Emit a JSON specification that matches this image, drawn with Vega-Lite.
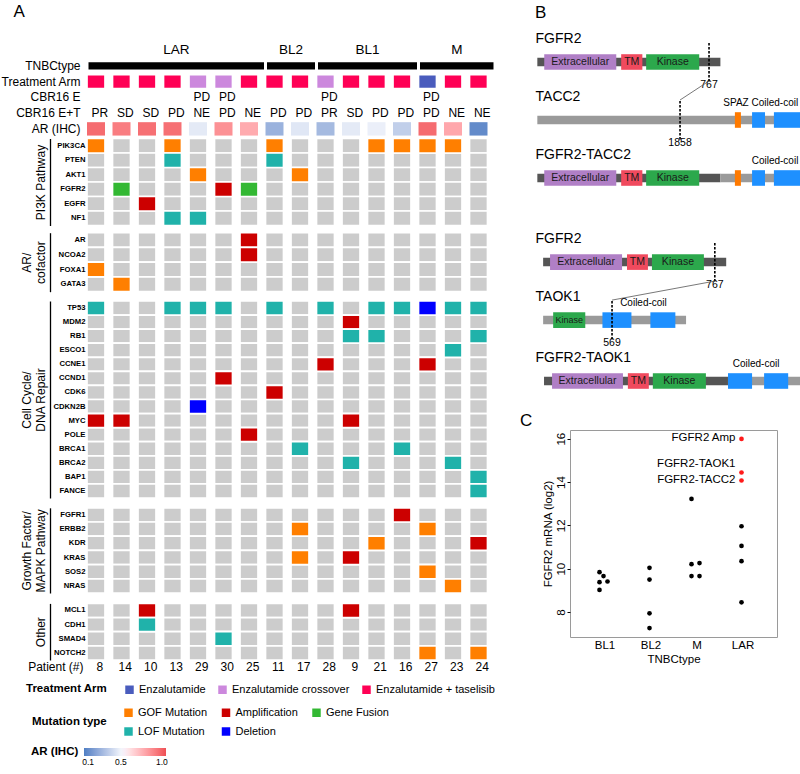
{
  "$schema": "https://vega.github.io/schema/vega-lite/v6.json",
  "background": "white",
  "padding": {"left": 0, "top": 2, "right": 0, "bottom": 0},
  "config": {
    "font": "Liberation Sans",
    "view": {"stroke": null},
    "axis": {"labelColor": "black", "titleColor": "black", "tickColor": "black", "grid": false},
    "legend": {"labelColor": "black", "titleColor": "black"},
    "title": {"color": "black", "fontWeight": "normal"}
  },
  "datasets": {
    "patients": [
      {"patient": "8", "type": "LAR", "arm": "Enzalutamide + taselisib", "cbrE": "", "cbrET": "PR", "ar_ihc": 0.97, "PIK3CA": "GOF Mutation", "FOXA1": "GOF Mutation", "TP53": "LOF Mutation", "MYC": "Amplification"},
      {"patient": "14", "type": "LAR", "arm": "Enzalutamide + taselisib", "cbrE": "", "cbrET": "SD", "ar_ihc": 0.92, "FGFR2": "Gene Fusion", "GATA3": "GOF Mutation", "MYC": "Amplification"},
      {"patient": "10", "type": "LAR", "arm": "Enzalutamide + taselisib", "cbrE": "", "cbrET": "SD", "ar_ihc": 0.96, "EGFR": "Amplification", "MCL1": "Amplification", "CDH1": "LOF Mutation"},
      {"patient": "13", "type": "LAR", "arm": "Enzalutamide + taselisib", "cbrE": "", "cbrET": "PD", "ar_ihc": 0.96, "PIK3CA": "GOF Mutation", "PTEN": "LOF Mutation", "NF1": "LOF Mutation", "TP53": "LOF Mutation"},
      {"patient": "29", "type": "LAR", "arm": "Enzalutamide crossover", "cbrE": "PD", "cbrET": "NE", "ar_ihc": 0.46, "AKT1": "GOF Mutation", "NF1": "LOF Mutation", "TP53": "LOF Mutation", "CDKN2B": "Deletion"},
      {"patient": "30", "type": "LAR", "arm": "Enzalutamide crossover", "cbrE": "PD", "cbrET": "PD", "ar_ihc": 0.86, "FGFR2": "Amplification", "TP53": "LOF Mutation", "CCND1": "Amplification", "SMAD4": "LOF Mutation"},
      {"patient": "25", "type": "LAR", "arm": "Enzalutamide + taselisib", "cbrE": "", "cbrET": "NE", "ar_ihc": 0.78, "FGFR2": "Gene Fusion", "AR": "Amplification", "NCOA2": "Amplification", "POLE": "Amplification"},
      {"patient": "11", "type": "BL2", "arm": "Enzalutamide + taselisib", "cbrE": "", "cbrET": "PD", "ar_ihc": 0.25, "PIK3CA": "GOF Mutation", "PTEN": "LOF Mutation", "TP53": "LOF Mutation", "CDK6": "Amplification"},
      {"patient": "17", "type": "BL2", "arm": "Enzalutamide + taselisib", "cbrE": "", "cbrET": "PD", "ar_ihc": 0.45, "AKT1": "GOF Mutation", "BRCA1": "LOF Mutation", "ERBB2": "GOF Mutation", "KRAS": "GOF Mutation"},
      {"patient": "28", "type": "BL1", "arm": "Enzalutamide crossover", "cbrE": "PD", "cbrET": "PR", "ar_ihc": 0.28, "TP53": "LOF Mutation", "CCNE1": "Amplification"},
      {"patient": "9", "type": "BL1", "arm": "Enzalutamide + taselisib", "cbrE": "", "cbrET": "SD", "ar_ihc": 0.46, "MDM2": "Amplification", "RB1": "LOF Mutation", "MYC": "Amplification", "BRCA2": "LOF Mutation", "KRAS": "Amplification", "MCL1": "Amplification"},
      {"patient": "21", "type": "BL1", "arm": "Enzalutamide + taselisib", "cbrE": "", "cbrET": "PD", "ar_ihc": 0.48, "PIK3CA": "GOF Mutation", "TP53": "LOF Mutation", "RB1": "LOF Mutation", "KDR": "GOF Mutation"},
      {"patient": "16", "type": "BL1", "arm": "Enzalutamide + taselisib", "cbrE": "", "cbrET": "PD", "ar_ihc": 0.36, "PIK3CA": "GOF Mutation", "TP53": "LOF Mutation", "BRCA1": "LOF Mutation", "FGFR1": "Amplification"},
      {"patient": "27", "type": "M", "arm": "Enzalutamide", "cbrE": "PD", "cbrET": "PD", "ar_ihc": 0.97, "PIK3CA": "GOF Mutation", "TP53": "Deletion", "CCNE1": "Amplification", "ERBB2": "GOF Mutation", "SOS2": "GOF Mutation", "NOTCH2": "GOF Mutation"},
      {"patient": "23", "type": "M", "arm": "Enzalutamide + taselisib", "cbrE": "", "cbrET": "NE", "ar_ihc": 0.79, "PIK3CA": "GOF Mutation", "TP53": "LOF Mutation", "ESCO1": "LOF Mutation", "BRCA2": "LOF Mutation", "NRAS": "GOF Mutation"},
      {"patient": "24", "type": "M", "arm": "Enzalutamide + taselisib", "cbrE": "", "cbrET": "NE", "ar_ihc": 0.1, "TP53": "LOF Mutation", "RB1": "LOF Mutation", "BAP1": "LOF Mutation", "FANCE": "LOF Mutation", "KDR": "Amplification", "NOTCH2": "GOF Mutation"}
    ],
    "tnbc": [
      {"type": "LAR", "first": "8", "last": "25", "mid": "13"},
      {"type": "BL2", "first": "11", "last": "17", "mid": "17"},
      {"type": "BL1", "first": "28", "last": "16", "mid": "21"},
      {"type": "M", "first": "27", "last": "24", "mid": "23"}
    ],
    "scatter": [
      {"type": "BL1", "mrna": 9.84, "side": "L"},
      {"type": "BL1", "mrna": 9.66, "side": "C"},
      {"type": "BL1", "mrna": 9.38, "side": "L"},
      {"type": "BL1", "mrna": 9.41, "side": "R"},
      {"type": "BL1", "mrna": 9.02, "side": "L"},
      {"type": "BL2", "mrna": 10.04, "side": "C"},
      {"type": "BL2", "mrna": 9.5, "side": "C"},
      {"type": "BL2", "mrna": 7.94, "side": "C"},
      {"type": "BL2", "mrna": 7.26, "side": "C"},
      {"type": "M", "mrna": 13.22, "side": "L"},
      {"type": "M", "mrna": 10.21, "side": "L"},
      {"type": "M", "mrna": 10.26, "side": "R"},
      {"type": "M", "mrna": 9.66, "side": "L"},
      {"type": "M", "mrna": 9.66, "side": "R"},
      {"type": "LAR", "mrna": 11.96, "side": "C"},
      {"type": "LAR", "mrna": 11.05, "side": "C"},
      {"type": "LAR", "mrna": 10.35, "side": "C"},
      {"type": "LAR", "mrna": 8.45, "side": "C"},
      {"type": "LAR", "mrna": 15.99, "side": "C", "label": "FGFR2 Amp"},
      {"type": "LAR", "mrna": 14.44, "side": "C", "label": "FGFR2-TAOK1"},
      {"type": "LAR", "mrna": 14.07, "side": "C", "label": "FGFR2-TACC2"}
    ],
    "parts": [
      {"track": 1, "kind": "fgfr", "start": 0, "end": 821},
      {"track": 1, "kind": "Extracellular", "start": 31, "end": 354},
      {"track": 1, "kind": "TM", "start": 376, "end": 471},
      {"track": 1, "kind": "Kinase", "start": 488, "end": 726},
      {"track": 2, "kind": "partner", "start": 0, "end": 1178},
      {"track": 2, "kind": "SPAZ", "start": 886, "end": 913},
      {"track": 2, "kind": "Coiled-coil", "start": 963, "end": 1021},
      {"track": 2, "kind": "Coiled-coil", "start": 1061, "end": 1178},
      {"track": 3, "kind": "fgfr", "start": 0, "end": 821},
      {"track": 3, "kind": "partner", "start": 821, "end": 1178},
      {"track": 3, "kind": "Extracellular", "start": 31, "end": 354},
      {"track": 3, "kind": "TM", "start": 376, "end": 471},
      {"track": 3, "kind": "Kinase", "start": 488, "end": 726},
      {"track": 3, "kind": "SPAZ", "start": 886, "end": 913},
      {"track": 3, "kind": "Coiled-coil", "start": 963, "end": 1021},
      {"track": 3, "kind": "Coiled-coil", "start": 1061, "end": 1178},
      {"track": 4.45, "kind": "fgfr", "start": 26, "end": 847},
      {"track": 4.45, "kind": "Extracellular", "start": 57, "end": 380},
      {"track": 4.45, "kind": "TM", "start": 402, "end": 496},
      {"track": 4.45, "kind": "Kinase", "start": 514, "end": 747},
      {"track": 5.45, "kind": "partner", "start": 26, "end": 667},
      {"track": 5.45, "kind": "Kinase", "start": 71, "end": 215},
      {"track": 5.45, "kind": "Coiled-coil", "start": 292, "end": 422},
      {"track": 5.45, "kind": "Coiled-coil", "start": 507, "end": 619},
      {"track": 6.5, "kind": "fgfr", "start": 30, "end": 855},
      {"track": 6.5, "kind": "partner", "start": 855, "end": 1178},
      {"track": 6.5, "kind": "Extracellular", "start": 66, "end": 384},
      {"track": 6.5, "kind": "TM", "start": 406, "end": 500},
      {"track": 6.5, "kind": "Kinase", "start": 518, "end": 756},
      {"track": 6.5, "kind": "Coiled-coil", "start": 855, "end": 963},
      {"track": 6.5, "kind": "Coiled-coil", "start": 1017, "end": 1125}
    ],
    "ptitles": [
      {"track": 1, "name": "FGFR2"},
      {"track": 2, "name": "TACC2"},
      {"track": 3, "name": "FGFR2-TACC2"},
      {"track": 4.45, "name": "FGFR2"},
      {"track": 5.45, "name": "TAOK1"},
      {"track": 6.5, "name": "FGFR2-TAOK1"}
    ],
    "breaks": [
      {"track": 1, "pos": 770, "label": "767"},
      {"track": 2, "pos": 640, "label": "1858"},
      {"track": 4.45, "pos": 796, "label": "767"},
      {"track": 5.45, "pos": 335, "label": "569"}
    ],
    "links": [
      {"from_track": 2, "from_pos": 640, "to_track": 1, "to_pos": 770},
      {"from_track": 5.45, "from_pos": 335, "to_track": 4.45, "to_pos": 796}
    ],
    "annots": [
      {"track": 2, "name": "SPAZ", "pos": 891},
      {"track": 2, "name": "Coiled-coil", "pos": 1065},
      {"track": 3, "name": "Coiled-coil", "pos": 1066},
      {"track": 5.45, "name": "Coiled-coil", "pos": 476},
      {"track": 6.5, "name": "Coiled-coil", "pos": 981}
    ]
  },
  "concat": [
    {
      "vconcat": [
        {
          "width": 408, "height": 78.75,
          "title": {"text": "A", "anchor": "start", "frame": "bounds", "fontSize": 17, "offset": 22.15, "dx": 13},
          "data": {"name": "patients"},
          "layer": [
            {
              "data": {"name": "tnbc"},
              "mark": {"type": "rect", "fill": "black", "stroke": "white", "strokeWidth": 3, "height": {"band": 0.635}},
              "encoding": {
                "x": {"field": "first", "type": "nominal", "bandPosition": 0, "scale": {"domain": ["8","14","10","13","29","30","25","11","17","28","9","21","16","27","23","24"], "paddingInner": 0, "paddingOuter": 0}, "axis": null},
                "x2": {"field": "last", "bandPosition": 1},
                "y": {"datum": "TNBCtype", "type": "nominal", "scale": {"domain": ["TNBCtype","Treatment Arm","CBR16 E","CBR16 E+T","AR (IHC)"], "paddingInner": 0, "paddingOuter": 0}, "axis": {"title": null, "domain": false, "ticks": false, "labelFontSize": 12, "labelPadding": 7}}
              }
            },
            {
              "data": {"name": "tnbc"},
              "transform": [{"filter": "datum.type == 'LAR' || datum.type == 'M'"}],
              "mark": {"type": "text", "fontSize": 13.5, "dy": -16, "baseline": "middle"},
              "encoding": {
                "x": {"field": "mid", "type": "nominal", "bandPosition": 0.5},
                "y": {"datum": "TNBCtype", "type": "nominal"},
                "text": {"field": "type"}
              }
            },
            {
              "data": {"name": "tnbc"},
              "transform": [{"filter": "datum.type == 'BL2' || datum.type == 'BL1'"}],
              "mark": {"type": "text", "fontSize": 13.5, "dy": -16, "baseline": "middle"},
              "encoding": {
                "x": {"field": "mid", "type": "nominal", "bandPosition": 0},
                "y": {"datum": "TNBCtype", "type": "nominal"},
                "text": {"field": "type"}
              }
            },
            {
              "mark": {"type": "rect", "stroke": "white", "strokeWidth": 1.7, "width": {"band": 1}, "height": {"band": 0.88}},
              "encoding": {
                "x": {"field": "patient", "type": "nominal"},
                "y": {"datum": "Treatment Arm", "type": "nominal"},
                "color": {"field": "arm", "type": "nominal", "scale": {"domain": ["Enzalutamide","Enzalutamide crossover","Enzalutamide + taselisib"], "range": ["#4a5cbd","#cc88dd","#ff0055"]}, "legend": null}
              }
            },
            {
              "mark": {"type": "text", "fontSize": 12, "baseline": "middle"},
              "encoding": {
                "x": {"field": "patient", "type": "nominal"},
                "y": {"datum": "CBR16 E", "type": "nominal"},
                "text": {"field": "cbrE"}
              }
            },
            {
              "mark": {"type": "text", "fontSize": 12, "baseline": "middle"},
              "encoding": {
                "x": {"field": "patient", "type": "nominal"},
                "y": {"datum": "CBR16 E+T", "type": "nominal"},
                "text": {"field": "cbrET"}
              }
            },
            {
              "mark": {"type": "rect", "width": {"band": 1}, "height": {"band": 0.85}},
              "encoding": {
                "x": {"field": "patient", "type": "nominal"},
                "y": {"datum": "AR (IHC)", "type": "nominal"},
                "fill": {"field": "ar_ihc", "type": "quantitative", "scale": {"domain": [0.05, 0.5, 0.58, 1.05], "range": ["#4f7fc4", "#f2f5fb", "#fde9eb", "#ee4f55"]}, "legend": null}
              }
            }
          ]
        },
        {
          "width": 408, "height": 88.5,
          "data": {"name": "patients"},
          "transform": [{"fold": ["PIK3CA","PTEN","AKT1","FGFR2","EGFR","NF1"], "as": ["gene", "alt"]}],
          "encoding": {
            "x": {"field": "patient", "type": "nominal", "scale": {"domain": ["8","14","10","13","29","30","25","11","17","28","9","21","16","27","23","24"], "paddingInner": 0, "paddingOuter": 0}, "axis": null},
            "y": {"field": "gene", "type": "nominal", "scale": {"domain": ["PIK3CA","PTEN","AKT1","FGFR2","EGFR","NF1"], "range": [1.5, 88.5], "paddingInner": 0, "paddingOuter": 0},
              "axis": {"title": "PI3K Pathway", "orient": "left", "domain": true, "domainColor": "black", "domainWidth": 1.3, "ticks": false, "tickSize": 0, "offset": 37, "labelAlign": "right", "labelBaseline": "middle", "labelPadding": -35, "labelFontWeight": "bold", "labelFontSize": 7.7, "titleFontSize": 12, "titleFontWeight": "normal", "titlePadding": 3, "titleLineHeight": 14}}
          },
          "layer": [
            {"mark": {"type": "rect", "fill": "#cccccc", "stroke": "white", "strokeWidth": 1.7}},
            {"transform": [{"filter": "datum.alt != null"}], "mark": {"type": "rect", "stroke": "white", "strokeWidth": 1.7},
             "encoding": {"color": {"field": "alt", "type": "nominal", "scale": {"domain": ["GOF Mutation","Amplification","Gene Fusion","LOF Mutation","Deletion"], "range": ["#ff7f00","#cc0000","#33b833","#20b2aa","#0000ff"]}, "legend": null}}}
          ]
        },
        {
          "width": 408, "height": 65.7,
          "data": {"name": "patients"},
          "transform": [{"fold": ["AR","NCOA2","FOXA1","GATA3"], "as": ["gene", "alt"]}],
          "encoding": {
            "x": {"field": "patient", "type": "nominal", "scale": {"domain": ["8","14","10","13","29","30","25","11","17","28","9","21","16","27","23","24"], "paddingInner": 0, "paddingOuter": 0}, "axis": null},
            "y": {"field": "gene", "type": "nominal", "scale": {"domain": ["AR","NCOA2","FOXA1","GATA3"], "range": [6.7, 65.7], "paddingInner": 0, "paddingOuter": 0},
              "axis": {"title": ["AR/", "cofactor"], "orient": "left", "domain": true, "domainColor": "black", "domainWidth": 1.3, "ticks": false, "tickSize": 0, "offset": 37, "labelAlign": "right", "labelBaseline": "middle", "labelPadding": -35, "labelFontWeight": "bold", "labelFontSize": 7.7, "titleFontSize": 12, "titleFontWeight": "normal", "titlePadding": 3, "titleLineHeight": 14}}
          },
          "layer": [
            {"mark": {"type": "rect", "fill": "#cccccc", "stroke": "white", "strokeWidth": 1.7}},
            {"transform": [{"filter": "datum.alt != null"}], "mark": {"type": "rect", "stroke": "white", "strokeWidth": 1.7},
             "encoding": {"color": {"field": "alt", "type": "nominal", "scale": {"domain": ["GOF Mutation","Amplification","Gene Fusion","LOF Mutation","Deletion"], "range": ["#ff7f00","#cc0000","#33b833","#20b2aa","#0000ff"]}, "legend": null}}}
          ]
        },
        {
          "width": 408, "height": 206,
          "data": {"name": "patients"},
          "transform": [{"fold": ["TP53","MDM2","RB1","ESCO1","CCNE1","CCND1","CDK6","CDKN2B","MYC","POLE","BRCA1","BRCA2","BAP1","FANCE"], "as": ["gene", "alt"]}],
          "encoding": {
            "x": {"field": "patient", "type": "nominal", "scale": {"domain": ["8","14","10","13","29","30","25","11","17","28","9","21","16","27","23","24"], "paddingInner": 0, "paddingOuter": 0}, "axis": null},
            "y": {"field": "gene", "type": "nominal", "scale": {"domain": ["TP53","MDM2","RB1","ESCO1","CCNE1","CCND1","CDK6","CDKN2B","MYC","POLE","BRCA1","BRCA2","BAP1","FANCE"], "range": [9, 206], "paddingInner": 0, "paddingOuter": 0},
              "axis": {"title": ["Cell Cycle/", "DNA Repair"], "orient": "left", "domain": true, "domainColor": "black", "domainWidth": 1.3, "ticks": false, "tickSize": 0, "offset": 37, "labelAlign": "right", "labelBaseline": "middle", "labelPadding": -35, "labelFontWeight": "bold", "labelFontSize": 7.7, "titleFontSize": 12, "titleFontWeight": "normal", "titlePadding": 3, "titleLineHeight": 14}}
          },
          "layer": [
            {"mark": {"type": "rect", "fill": "#cccccc", "stroke": "white", "strokeWidth": 1.7}},
            {"transform": [{"filter": "datum.alt != null"}], "mark": {"type": "rect", "stroke": "white", "strokeWidth": 1.7},
             "encoding": {"color": {"field": "alt", "type": "nominal", "scale": {"domain": ["GOF Mutation","Amplification","Gene Fusion","LOF Mutation","Deletion"], "range": ["#ff7f00","#cc0000","#33b833","#20b2aa","#0000ff"]}, "legend": null}}}
          ]
        },
        {
          "width": 408, "height": 95,
          "data": {"name": "patients"},
          "transform": [{"fold": ["FGFR1","ERBB2","KDR","KRAS","SOS2","NRAS"], "as": ["gene", "alt"]}],
          "encoding": {
            "x": {"field": "patient", "type": "nominal", "scale": {"domain": ["8","14","10","13","29","30","25","11","17","28","9","21","16","27","23","24"], "paddingInner": 0, "paddingOuter": 0}, "axis": null},
            "y": {"field": "gene", "type": "nominal", "scale": {"domain": ["FGFR1","ERBB2","KDR","KRAS","SOS2","NRAS"], "range": [9.8, 95], "paddingInner": 0, "paddingOuter": 0},
              "axis": {"title": ["Growth Factor/", "MAPK Pathway"], "orient": "left", "domain": true, "domainColor": "black", "domainWidth": 1.3, "ticks": false, "tickSize": 0, "offset": 37, "labelAlign": "right", "labelBaseline": "middle", "labelPadding": -35, "labelFontWeight": "bold", "labelFontSize": 7.7, "titleFontSize": 12, "titleFontWeight": "normal", "titlePadding": 3, "titleLineHeight": 14}}
          },
          "layer": [
            {"mark": {"type": "rect", "fill": "#cccccc", "stroke": "white", "strokeWidth": 1.7}},
            {"transform": [{"filter": "datum.alt != null"}], "mark": {"type": "rect", "stroke": "white", "strokeWidth": 1.7},
             "encoding": {"color": {"field": "alt", "type": "nominal", "scale": {"domain": ["GOF Mutation","Amplification","Gene Fusion","LOF Mutation","Deletion"], "range": ["#ff7f00","#cc0000","#33b833","#20b2aa","#0000ff"]}, "legend": null}}}
          ]
        },
        {
          "width": 408, "height": 67,
          "data": {"name": "patients"},
          "encoding": {
            "x": {"field": "patient", "type": "nominal", "scale": {"domain": ["8","14","10","13","29","30","25","11","17","28","9","21","16","27","23","24"], "paddingInner": 0, "paddingOuter": 0},
              "axis": {"title": "Patient (#)", "orient": "bottom", "domain": false, "ticks": false, "tickSize": 0, "labelPadding": 1.2, "labelFontSize": 12, "labelAngle": 0, "titleFontSize": 12, "titleFontWeight": "normal", "titleX": -4, "titleY": 6.4, "titleAlign": "right", "titleBaseline": "middle", "titleAngle": 0}}
          },
          "layer": [
            {
              "transform": [{"fold": ["MCL1","CDH1","SMAD4","NOTCH2"], "as": ["gene", "alt"]}],
              "encoding": {
                "y": {"field": "gene", "type": "nominal", "scale": {"domain": ["MCL1","CDH1","SMAD4","NOTCH2"], "range": [10.4, 67], "paddingInner": 0, "paddingOuter": 0},
                  "axis": {"title": "Other", "orient": "left", "domain": true, "domainColor": "black", "domainWidth": 1.3, "ticks": false, "tickSize": 0, "offset": 37, "labelAlign": "right", "labelBaseline": "middle", "labelPadding": -35, "labelFontWeight": "bold", "labelFontSize": 7.7, "titleFontSize": 12, "titleFontWeight": "normal", "titlePadding": 3, "titleLineHeight": 14}}
              },
              "layer": [
                {"mark": {"type": "rect", "fill": "#cccccc", "stroke": "white", "strokeWidth": 1.7}},
                {"transform": [{"filter": "datum.alt != null"}], "mark": {"type": "rect", "stroke": "white", "strokeWidth": 1.7},
                 "encoding": {"color": {"field": "alt", "type": "nominal", "scale": {"domain": ["GOF Mutation","Amplification","Gene Fusion","LOF Mutation","Deletion"], "range": ["#ff7f00","#cc0000","#33b833","#20b2aa","#0000ff"]},
                   "legend": {"orient": "none", "legendX": -55, "legendY": 114, "title": "Mutation type", "titleOrient": "left", "direction": "horizontal", "columns": 3, "symbolType": "square", "symbolSize": 72, "symbolStrokeWidth": 0, "symbolOpacity": 1, "labelFontSize": 11, "titleFontSize": 11.5, "titleFontWeight": "bold", "titlePadding": 16, "columnPadding": 12.5, "rowPadding": 7, "labelOffset": 4, "padding": 0}}}}
              ]
            },
            {
              "transform": [{"filter": "false"}],
              "mark": {"type": "rect"},
              "encoding": {"fill": {"field": "arm", "type": "nominal", "scale": {"domain": ["Enzalutamide","Enzalutamide crossover","Enzalutamide + taselisib"], "range": ["#4a5cbd","#cc88dd","#ff0055"]},
                "legend": {"orient": "none", "legendX": -61, "legendY": 91, "title": "Treatment Arm", "titleOrient": "left", "direction": "horizontal", "columns": 3, "symbolType": "square", "symbolSize": 72, "symbolStrokeWidth": 0, "symbolOpacity": 1, "labelFontSize": 11, "titleFontSize": 11.5, "titleFontWeight": "bold", "titlePadding": 16, "columnPadding": 11, "labelOffset": 4, "padding": 0}}}
            },
            {
              "transform": [{"filter": "false"}],
              "mark": {"type": "rect"},
              "encoding": {"stroke": {"field": "ar_ihc", "type": "quantitative", "scale": {"domain": [0.05, 0.5, 0.58, 1.05], "range": ["#4f7fc4", "#f2f5fb", "#fde9eb", "#ee4f55"]},
                "legend": {"orient": "none", "legendX": -56, "legendY": 155, "title": "AR (IHC)", "titleOrient": "left", "direction": "horizontal", "gradientLength": 82, "gradientThickness": 8, "values": [0.1, 0.5, 1.0], "format": ".1f", "labelFontSize": 8.5, "titleFontSize": 11.5, "titleFontWeight": "bold", "titlePadding": 5, "labelOffset": 2, "padding": 0, "gradientStrokeWidth": 0}}}
            }
          ]
        }
      ],
      "spacing": 0,
      "bounds": "flush",
      "resolve": {"scale": {"color": "independent", "fill": "independent", "stroke": "independent"}, "legend": {"color": "independent", "fill": "independent", "stroke": "independent"}}
    },
    {
      "concat": [
        {
          "width": 230, "height": 344,
          "title": {"text": "B", "anchor": "start", "frame": "group", "fontSize": 17, "offset": 10, "dx": -35},
          "layer": [
            {
              "data": {"name": "parts"},
              "transform": [{"filter": "datum.kind == 'fgfr' || datum.kind == 'partner'"}],
              "mark": {"type": "rect", "yOffset": -4.25, "y2Offset": 4.25},
              "encoding": {
                "x": {"field": "start", "type": "quantitative", "scale": {"domain": [146.5, 1178], "nice": false, "zero": false}, "axis": null},
                "x2": {"field": "end"},
                "y": {"field": "track", "type": "quantitative", "scale": {"domain": [0.931, 6.862], "reverse": true, "nice": false, "zero": false}, "axis": null},
                "y2": {"field": "track"},
                "color": {"field": "kind", "type": "nominal", "scale": {"domain": ["fgfr","partner","Extracellular","TM","Kinase","SPAZ","Coiled-coil"], "range": ["#555555","#9a9a9a","#b07fc6","#f04a5e","#2ca84c","#ff7a00","#1e90ff"]}, "legend": null}
              }
            },
            {
              "data": {"name": "parts"},
              "transform": [{"filter": "datum.kind != 'fgfr' && datum.kind != 'partner'"}],
              "mark": {"type": "rect", "yOffset": -7.8, "y2Offset": 7.8},
              "encoding": {
                "x": {"field": "start", "type": "quantitative"},
                "x2": {"field": "end"},
                "y": {"field": "track", "type": "quantitative"},
                "y2": {"field": "track"},
                "color": {"field": "kind", "type": "nominal", "legend": null}
              }
            },
            {
              "data": {"name": "parts"},
              "transform": [{"filter": "datum.kind == 'Extracellular' || datum.kind == 'TM' || datum.kind == 'Kinase'"}, {"calculate": "(datum.start + datum.end) / 2", "as": "mid"}],
              "mark": {"type": "text", "color": "#1a1a1a", "baseline": "middle"},
              "encoding": {
                "x": {"field": "mid", "type": "quantitative"},
                "y": {"field": "track", "type": "quantitative"},
                "text": {"field": "kind"},
                "size": {"condition": {"test": "datum.track == 5.45", "value": 9}, "value": 10.5}
              }
            },
            {
              "data": {"name": "ptitles"},
              "mark": {"type": "text", "fontSize": 14, "align": "left", "baseline": "middle", "dy": -23},
              "encoding": {
                "x": {"datum": -8, "type": "quantitative"},
                "y": {"field": "track", "type": "quantitative"},
                "text": {"field": "name"}
              }
            },
            {
              "data": {"name": "breaks"},
              "mark": {"type": "rule", "strokeDash": [2.5, 1.5], "strokeWidth": 1.6, "color": "black", "yOffset": -19, "y2Offset": 20},
              "encoding": {
                "x": {"field": "pos", "type": "quantitative"},
                "y": {"field": "track", "type": "quantitative"},
                "y2": {"field": "track"}
              }
            },
            {
              "data": {"name": "breaks"},
              "mark": {"type": "text", "fontSize": 10.5, "dy": 23, "baseline": "middle"},
              "encoding": {
                "x": {"field": "pos", "type": "quantitative"},
                "y": {"field": "track", "type": "quantitative"},
                "text": {"field": "label"}
              }
            },
            {
              "data": {"name": "links"},
              "mark": {"type": "rule", "color": "#555555", "strokeWidth": 0.8, "yOffset": -20, "y2Offset": 19},
              "encoding": {
                "x": {"field": "from_pos", "type": "quantitative"},
                "x2": {"field": "to_pos"},
                "y": {"field": "from_track", "type": "quantitative"},
                "y2": {"field": "to_track"}
              }
            },
            {
              "data": {"name": "annots"},
              "mark": {"type": "text", "fontSize": 10, "dy": -17.5, "baseline": "middle"},
              "encoding": {
                "x": {"field": "pos", "type": "quantitative"},
                "y": {"field": "track", "type": "quantitative"},
                "text": {"field": "name"}
              }
            }
          ]
        },
        {
          "width": 207, "height": 207,
          "view": {"stroke": "#9a9a9a"},
          "title": {"text": "C", "anchor": "start", "frame": "bounds", "fontSize": 17, "offset": 0, "dx": -22},
          "data": {"name": "scatter"},
          "encoding": {
            "x": {"field": "type", "type": "nominal", "scale": {"type": "point", "domain": ["BL1","BL2","M","LAR"], "padding": 0.75},
              "axis": {"title": "TNBCtype", "ticks": false, "domain": false, "labelFontSize": 11.5, "labelPadding": 2, "labelAngle": 0, "titleFontSize": 11.5, "titleFontWeight": "normal", "titlePadding": 3}},
            "y": {"field": "mrna", "type": "quantitative", "scale": {"domain": [6.85, 16.4], "nice": false, "zero": false},
              "axis": {"title": "FGFR2 mRNA (log2)", "values": [8, 10, 12, 14, 16], "ticks": true, "tickSize": 3, "domain": false, "labelAngle": -90, "labelAlign": "center", "labelBaseline": "bottom", "labelPadding": 1, "labelFontSize": 11.5, "titleFontSize": 11.5, "titleFontWeight": "normal", "titlePadding": 2}}
          },
          "layer": [
            {
              "mark": {"type": "circle", "size": 22, "opacity": 1},
              "encoding": {
                "xOffset": {"field": "side", "type": "nominal", "scale": {"type": "point", "domain": ["L", "C", "R"], "range": [-5, 3], "padding": 0}},
                "color": {"condition": {"test": "datum.label != null", "value": "#ff1a1a"}, "value": "black"}
              }
            },
            {
              "transform": [{"filter": "datum.label == 'FGFR2 Amp' || datum.label == 'FGFR2-TACC2'"}],
              "mark": {"type": "text", "align": "right", "baseline": "middle", "dx": -7, "dy": -1, "fontSize": 11.5},
              "encoding": {"text": {"field": "label"}}
            },
            {
              "transform": [{"filter": "datum.label == 'FGFR2-TAOK1'"}],
              "mark": {"type": "text", "align": "right", "baseline": "middle", "dx": -7, "dy": -8, "fontSize": 11.5},
              "encoding": {"text": {"field": "label"}}
            }
          ]
        }
      ],
      "columns": 1,
      "align": "none",
      "spacing": 9,
      "resolve": {"scale": {"color": "independent", "x": "independent", "y": "independent"}, "legend": {"color": "independent"}}
    }
  ],
  "columns": 2,
  "align": "none",
  "spacing": 22,
  "resolve": {"scale": {"color": "independent", "fill": "independent", "stroke": "independent", "x": "independent", "y": "independent"}, "legend": {"color": "independent", "fill": "independent", "stroke": "independent"}}
}
